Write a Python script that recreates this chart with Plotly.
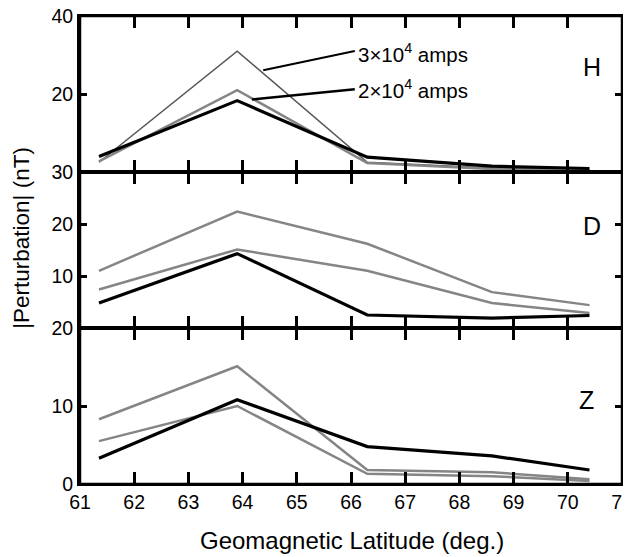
import plotly.graph_objects as go
from plotly.subplots import make_subplots

# geomagnetic latitude of the stations
lat = [61.35, 63.9, 66.3, 68.6, 70.4]

# |perturbation| in nT for each component
h_3e4 = [2.5, 31.0, 2.5, 1.0, 0.5]
h_2e4 = [2.7, 21.0, 2.3, 0.8, 0.5]
h_obs = [4.0, 18.3, 3.8, 1.5, 0.9]

d_3e4 = [11.0, 22.4, 16.2, 6.9, 4.4]
d_2e4 = [7.4, 15.1, 11.0, 4.8, 2.9]
d_obs = [4.8, 14.3, 2.5, 1.9, 2.4]

z_3e4 = [8.3, 15.1, 1.8, 1.5, 0.6]
z_2e4 = [5.5, 10.0, 1.3, 1.0, 0.4]
z_obs = [3.3, 10.8, 4.8, 3.6, 1.8]

panels = ["H", "D", "Z"]
x_ticks = [61, 62, 63, 64, 65, 66, 67, 68, 69, 70, 71]

gray = "#858585"
font = "Liberation Sans, Arial, sans-serif"

fig = make_subplots(rows=3, cols=1, shared_xaxes=True, vertical_spacing=0)

data = [(h_3e4, h_2e4, h_obs), (d_3e4, d_2e4, d_obs), (z_3e4, z_2e4, z_obs)]
for i, (a, b, c) in enumerate(data):
    row = i + 1
    w3 = 1.5 if row == 1 else 2.5
    c3 = "#555555" if row == 1 else gray
    fig.add_trace(go.Scatter(x=lat, y=a, mode="lines", line=dict(color=c3, width=w3)), row=row, col=1)
    fig.add_trace(go.Scatter(x=lat, y=b, mode="lines", line=dict(color=gray, width=2.5)), row=row, col=1)
    fig.add_trace(go.Scatter(x=lat, y=c, mode="lines", line=dict(color="black", width=3.2)), row=row, col=1)

tick_font = dict(family=font, size=19.5, color="black")

for row in [1, 2, 3]:
    fig.update_xaxes(range=[61, 71], tickmode="array", tickvals=x_ticks, ticks="inside",
                     ticklen=12, tickwidth=2.5, tickcolor="#000000", showline=True, linecolor="black",
                     linewidth=1.6, mirror="ticks", showgrid=False, zeroline=False,
                     automargin=False, ticklabeloverflow="allow",
                     showticklabels=(row == 3), tickfont=tick_font, row=row, col=1)

y_ranges = [[0, 40], [0, 30], [0, 20]]
y_ticks = [[20, 40], [10, 20, 30], [0, 10, 20]]
for row in [1, 2, 3]:
    fig.update_yaxes(range=y_ranges[row - 1], tickmode="array", tickvals=y_ticks[row - 1],
                     ticks="inside", ticklen=7, tickwidth=2.5, tickcolor="#000000", showline=True,
                     linecolor="black", linewidth=3, mirror="ticks", showgrid=False,
                     zeroline=False, automargin=False, ticklabeloverflow="allow",
                     tickfont=tick_font, row=row, col=1)

# heavier outer frame
fig.add_shape(type="rect", xref="paper", yref="paper", x0=0, x1=1, y0=0, y1=1,
              fillcolor="rgba(0,0,0,0)", line=dict(color="black", width=2.5))

# panel letters
letter_pos = [(70.45, 26.8), (70.45, 19.6), (70.35, 10.8)]
for i, name in enumerate(panels):
    yref = "y" if i == 0 else "y%d" % (i + 1)
    fig.add_annotation(x=letter_pos[i][0], y=letter_pos[i][1], xref="x", yref=yref, text=name,
                       xanchor="center", yanchor="middle", showarrow=False,
                       font=dict(family=font, size=25, color="black"))

# labels for the model current lines in H
fig.add_annotation(x=66.1, y=30.5, xref="x", yref="y", text="3×10<sup>4</sup> amps",
                   xanchor="left", yanchor="middle", showarrow=False,
                   font=dict(family=font, size=20.5, color="black"))
fig.add_annotation(x=66.1, y=21.4, xref="x", yref="y", text="2×10<sup>4</sup> amps",
                   xanchor="left", yanchor="middle", showarrow=False,
                   font=dict(family=font, size=20.5, color="black"))
fig.add_shape(type="line", x0=64.38, y0=26.1, x1=66.07, y1=31.0, xref="x", yref="y",
              line=dict(color="black", width=2))
fig.add_shape(type="line", x0=64.17, y0=18.6, x1=66.07, y1=21.2, xref="x", yref="y",
              line=dict(color="black", width=2.5))

# axis titles
fig.add_annotation(x=-0.107, y=0.526, xref="paper", yref="paper", text="|Perturbation| (nT)",
                   xanchor="center", yanchor="middle", textangle=-90, showarrow=False,
                   font=dict(family=font, size=22.5, color="black"))
fig.add_annotation(x=0.502, y=-0.12, xref="paper", yref="paper", text="Geomagnetic Latitude (deg.)",
                   xanchor="center", yanchor="middle", showarrow=False,
                   font=dict(family=font, size=24, color="black"))

# the page adds an 8 px body margin, so the margins are shifted by that much
fig.update_layout(
    width=631, height=557,
    margin=dict(l=72, r=17, t=8, b=81, autoexpand=False),
    plot_bgcolor="white", paper_bgcolor="white",
    showlegend=False,
)

fig.write_html("out.html")
